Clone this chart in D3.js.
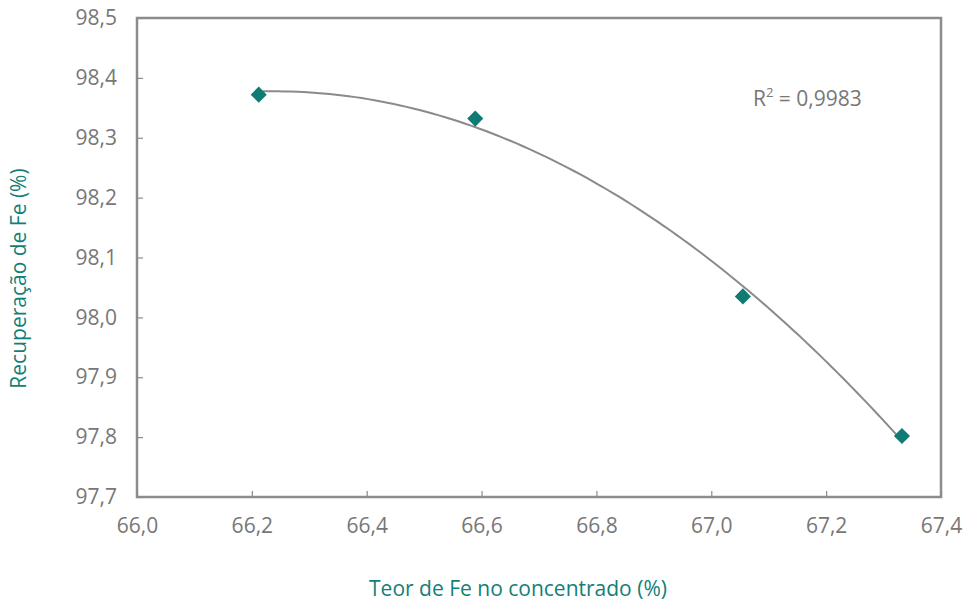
<!DOCTYPE html>
<html>
<head>
<meta charset="utf-8">
<script src="https://cdn.jsdelivr.net/npm/d3@7"></script>
<style>
  body { margin: 0; background: #fff; }
  text { font-family: "Open Sans", "Noto Sans", sans-serif; }
</style>
</head>
<body>
<div id="vis"></div>
<script>
// data
var teorFe = [66.212, 66.589, 67.055, 67.332];
var recupFe = [98.372, 98.332, 98.035, 97.802];
var xTicks = [66.0, 66.2, 66.4, 66.6, 66.8, 67.0, 67.2, 67.4];
var yTicks = [97.7, 97.8, 97.9, 98.0, 98.1, 98.2, 98.3, 98.4, 98.5];
var r2Label = "0,9983";

var margin = {top: 18, right: 24, bottom: 104, left: 137},
    width = 965 - margin.left - margin.right,
    height = 601 - margin.top - margin.bottom;

var svg = d3.select("#vis").append("svg")
    .attr("width", 965)
    .attr("height", 601)
  .append("g")
    .attr("transform", "translate(" + margin.left + "," + margin.top + ")");

var xScale = d3.scaleLinear().domain([66.0, 67.4]).range([0, width]);
var yScale = d3.scaleLinear().domain([97.7, 98.5]).range([height, 0]);

var fmt = function(d){ return d3.format(".1f")(d).replace(".", ","); };
var gray = "#8c8c8c";

// axes with inward ticks
var xAxis = svg.append("g")
    .attr("transform", "translate(0," + height + ")")
    .call(d3.axisBottom(xScale).tickValues(xTicks).tickSize(-6).tickPadding(21).tickFormat(fmt));
var yAxis = svg.append("g")
    .call(d3.axisLeft(yScale).tickValues(yTicks).tickSize(-6).tickPadding(20).tickFormat(fmt));

[xAxis, yAxis].forEach(function(a){
  a.select(".domain").remove();
  a.selectAll(".tick line").attr("stroke", gray).attr("stroke-width", 1.2);
  a.selectAll(".tick text").attr("fill", "#777").style("font-size", "21px")
    .style("font-family", "'Open Sans', sans-serif");
});

// frame
svg.append("rect")
    .attr("width", width).attr("height", height)
    .attr("fill", "none").attr("stroke", gray).attr("stroke-width", 2.5);

// quadratic least-squares trend line
function polyFit(xs, ys){
  var n = xs.length, x0 = d3.mean(xs);
  var s = [0,0,0,0,0], t = [0,0,0];
  for (var i = 0; i < n; i++){
    var u = xs[i] - x0;
    for (var k = 0; k < 5; k++) s[k] += Math.pow(u, k);
    for (var k = 0; k < 3; k++) t[k] += ys[i] * Math.pow(u, k);
  }
  var A = [[s[0], s[1], s[2], t[0]], [s[1], s[2], s[3], t[1]], [s[2], s[3], s[4], t[2]]];
  for (var c = 0; c < 3; c++){
    for (var r = c + 1; r < 3; r++){
      var f = A[r][c] / A[c][c];
      for (var j = c; j < 4; j++) A[r][j] -= f * A[c][j];
    }
  }
  var b = [0,0,0];
  for (var r = 2; r >= 0; r--){
    var v = A[r][3];
    for (var j = r + 1; j < 3; j++) v -= A[r][j] * b[j];
    b[r] = v / A[r][r];
  }
  return function(x){ var u = x - x0; return b[0] + b[1]*u + b[2]*u*u; };
}
var fit = polyFit(teorFe, recupFe);
var xLo = d3.min(teorFe), xHi = d3.max(teorFe);
var trend = d3.range(0, 101).map(function(i){ var x = xLo + (xHi - xLo) * i / 100; return [x, fit(x)]; });

svg.append("path")
    .datum(trend)
    .attr("fill", "none")
    .attr("stroke", "#8a8a8a")
    .attr("stroke-width", 2)
    .attr("d", d3.line().x(function(d){ return xScale(d[0]); }).y(function(d){ return yScale(d[1]); }));

// points
svg.selectAll(".pt")
    .data(teorFe)
    .enter()
    .append("path")
    .attr("class", "pt")
    .attr("transform", function(d, i){ return "translate(" + xScale(d) + "," + yScale(recupFe[i]) + ")"; })
    .attr("d", d3.symbol().type(d3.symbolDiamond2).size(165))
    .attr("fill", "#0f7b73");

// R² label
var r2 = svg.append("text")
    .attr("x", 616).attr("y", 88)
    .attr("fill", "#777").style("font-size", "21px");
r2.append("tspan").text("R");
r2.append("tspan").attr("dy", -9).style("font-size", "13px").text("2");
r2.append("tspan").attr("dy", 9).text(" = " + r2Label);

// axis titles
svg.append("text")
    .attr("x", 381).attr("y", height + 99)
    .attr("text-anchor", "middle")
    .attr("fill", "#137f78").style("font-size", "21px")
    .text("Teor de Fe no concentrado (%)");

svg.append("text")
    .attr("transform", "translate(" + (-111) + "," + (height / 2 + 21) + ") rotate(-90)")
    .attr("text-anchor", "middle")
    .attr("fill", "#137f78").style("font-size", "21px")
    .text("Recuperação de Fe (%)");
</script>
</body>
</html>
